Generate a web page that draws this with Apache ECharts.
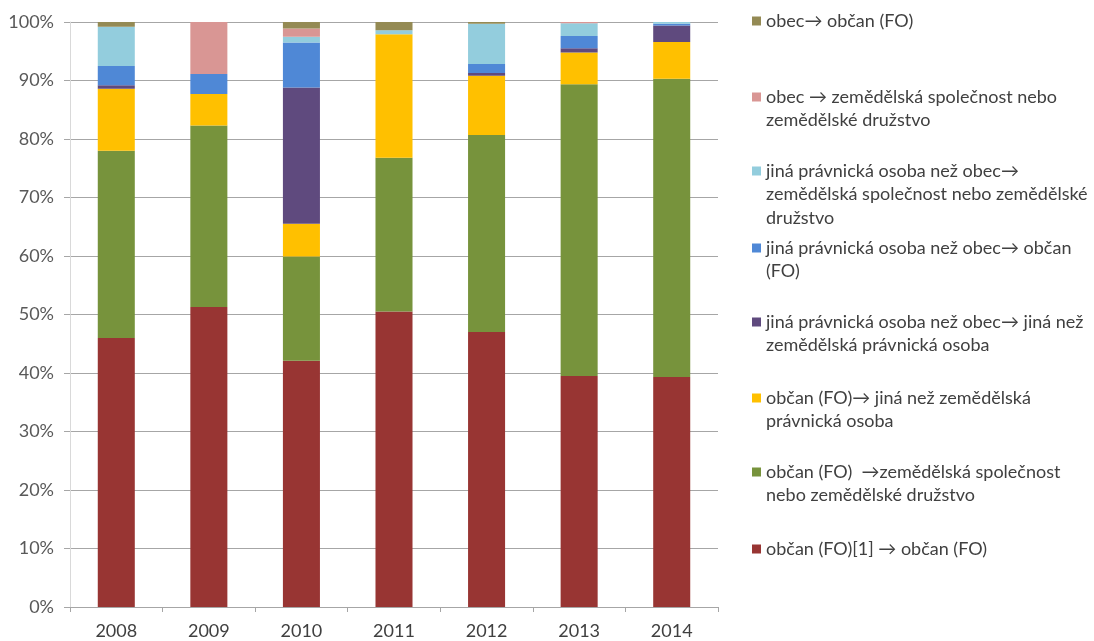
<!DOCTYPE html>
<html>
<head>
<meta charset="utf-8">
<script src="https://cdn.jsdelivr.net/npm/echarts@6/dist/echarts.min.js"></script>
<style>
  html, body { margin: 0; padding: 0; background: #ffffff; }
  #chart { width: 1094px; height: 641px; }
</style>
</head>
<body>
<div id="chart"></div>
<script>
// Years on the x axis
const categories = ['2008', '2009', '2010', '2011', '2012', '2013', '2014'];

// Shares of transfers (%) per year, one array per transfer type
const obcanObcan = [46.0, 51.3, 42.1, 50.5, 47.0, 39.5, 39.3];
const obcanZemSpol = [32.0, 31.0, 17.8, 26.3, 33.7, 49.85, 51.0];
const obcanJinaPO = [10.6, 5.4, 5.6, 21.1, 10.1, 5.45, 6.3];
const jinaJinaPO = [0.6, 0, 23.3, 0, 0.5, 0.7, 2.8];
const jinaObcan = [3.3, 3.4, 7.7, 0, 1.5, 2.1, 0.3];
const jinaZemSpol = [6.7, 0, 1.0, 0.7, 6.9, 2.2, 0.3];
const obecZemSpol = [0, 8.9, 1.4, 0, 0, 0.2, 0];
const obecObcan = [0.8, 0, 1.1, 1.4, 0.3, 0, 0];

// Legend texts, wrapped into lines
const labelObcanObcan = ['občan (FO)[1] \u2192 občan (FO)'];
const labelObcanZemSpol = ['občan (FO)  \u2192zemědělská společnost', 'nebo zemědělské družstvo'];
const labelObcanJinaPO = ['občan (FO)\u2192 jiná než zemědělská', 'právnická osoba'];
const labelJinaJinaPO = ['jiná právnická osoba než obec\u2192 jiná než', 'zemědělská právnická osoba'];
const labelJinaObcan = ['jiná právnická osoba než obec\u2192 občan', '(FO)'];
const labelJinaZemSpol = ['jiná právnická osoba než obec\u2192', 'zemědělská společnost nebo zemědělské', 'družstvo'];
const labelObecZemSpol = ['obec \u2192 zemědělská společnost nebo', 'zemědělské družstvo'];
const labelObecObcan = ['obec\u2192 občan (FO)'];

// Y axis tick values
const yTicks = { min: 0, max: 100, interval: 10 };

const FONT = 'Lato, "Open Sans", sans-serif';

// Series drawn bottom-up in the stack
const stackDefs = [
  { lines: labelObcanObcan, data: obcanObcan, color: '#983533' },
  { lines: labelObcanZemSpol, data: obcanZemSpol, color: '#77933c' },
  { lines: labelObcanJinaPO, data: obcanJinaPO, color: '#ffc000' },
  { lines: labelJinaJinaPO, data: jinaJinaPO, color: '#5f4a7e' },
  { lines: labelJinaObcan, data: jinaObcan, color: '#4f88d6' },
  { lines: labelJinaZemSpol, data: jinaZemSpol, color: '#93cddd' },
  { lines: labelObecZemSpol, data: obecZemSpol, color: '#d99694' },
  { lines: labelObecObcan, data: obecObcan, color: '#948a54' }
];

const series = stackDefs.map(d => ({
  name: d.lines.join(' '),
  type: 'bar',
  stack: 'total',
  barWidth: '40%',
  data: d.data,
  itemStyle: { color: d.color },
  emphasis: { disabled: true }
}));

// Legend entries listed top-down; each one is its own component so the
// entries can be spaced evenly regardless of how many lines they wrap to.
const LINE_H = 23.5;
const legendFirstLineY = [21, 97, 171, 248, 322, 398, 472, 549];
const legendOrder = stackDefs.slice().reverse();
const legends = legendOrder.map((d, i) => {
  const n = d.lines.length;
  return {
    left: 752,
    top: legendFirstLineY[i] - (2 * n - 1) * LINE_H / 2,
    padding: 0,
    orient: 'vertical',
    selectedMode: false,
    icon: 'rect',
    itemWidth: 9,
    itemHeight: 9,
    data: [d.lines.join(' ')],
    // leading blank lines keep the marker level with the first text line
    formatter: () => '\n'.repeat(n - 1) + d.lines.join('\n'),
    textStyle: {
      fontFamily: FONT,
      fontSize: 18,
      color: '#404040',
      lineHeight: LINE_H
    }
  };
});

const chart = echarts.init(document.getElementById('chart'), null, { renderer: 'canvas' });
chart.setOption({
  animation: false,
  backgroundColor: '#ffffff',
  grid: { left: 70, right: 376, top: 22, bottom: 34, containLabel: false, outerBoundsMode: 'none' },
  legend: legends,
  xAxis: {
    type: 'category',
    data: categories,
    boundaryGap: true,
    axisLine: { show: true, lineStyle: { color: '#a6a6a6', width: 1 } },
    axisTick: { show: true, length: 5, alignWithLabel: false, lineStyle: { color: '#a6a6a6' } },
    axisLabel: { fontFamily: FONT, fontSize: 18, color: '#404040', margin: 15 }
  },
  yAxis: {
    type: 'value',
    min: yTicks.min,
    max: yTicks.max,
    interval: yTicks.interval,
    axisLine: { show: true, lineStyle: { color: '#d9d9d9', width: 1 } },
    axisTick: { show: true, length: 6, lineStyle: { color: '#a6a6a6' } },
    axisLabel: { formatter: '{value}%', fontFamily: FONT, fontSize: 18, color: '#595959', margin: 16 },
    splitLine: { show: true, lineStyle: { color: '#a6a6a6', width: 1 } }
  },
  series: series
});
</script>
</body>
</html>
